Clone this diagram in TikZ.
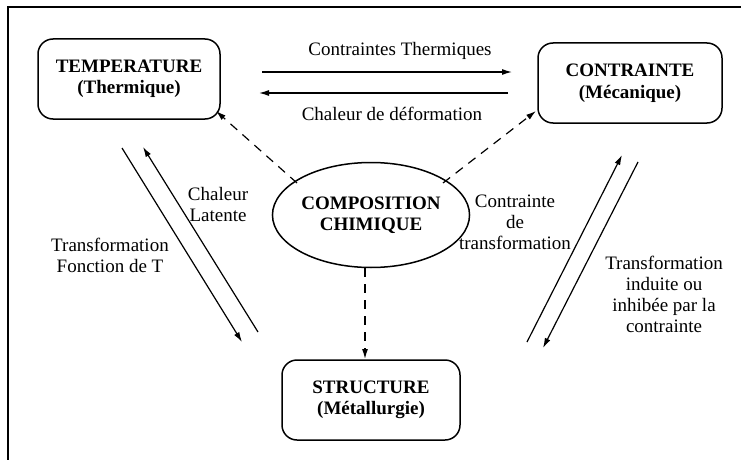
\documentclass[tikz,border=0pt]{standalone}
\usepackage{fontspec}
\setmainfont{Liberation Serif}
\usetikzlibrary{arrows.meta,shapes.geometric}
\begin{document}
\begin{tikzpicture}[x=1pt,y=-1pt,
  every node/.style={font=\fontsize{19}{21}\selectfont, inner sep=0pt, align=center},
  boxnode/.style={draw, line width=1.5pt, rounded corners=15pt, font=\fontsize{19}{21.5}\selectfont\bfseries},
  ellnode/.style={draw, ellipse, line width=1.5pt, font=\fontsize{19}{21}\selectfont\bfseries},
  conn/.style={line width=1.2pt, -{Latex[length=10pt,width=6pt]}},
  dconn/.style={conn, dash pattern=on 9pt off 7pt},
  lbl/.style={text=black}
]
\useasboundingbox (0,0) rectangle (741,460);
\fill[white] (0,0) rectangle (741,460);
% frame
\draw[line width=2pt] (8,460) -- (8,7) -- (741,7);

% nodes
\node[boxnode, minimum width=182pt, minimum height=80pt] (temp) at (129,79) {TEMPERATURE\\(Thermique)};
\node[boxnode, minimum width=184pt, minimum height=80pt] (cont) at (630,83) {CONTRAINTE\\(Mécanique)};
\node[boxnode, minimum width=178pt, minimum height=80pt] (struc) at (371,400) {STRUCTURE\\(Métallurgie)};
\node[ellnode, minimum width=177pt, minimum height=105pt] (comp) at (371,215) {COMPOSITION\\CHIMIQUE};

% coordinates for parallel arrows
\coordinate (t1s) at (262,72);  \coordinate (t1e) at (512,72);
\coordinate (t2s) at (508,93);  \coordinate (t2e) at (259,93);
\coordinate (l1s) at (122,148); \coordinate (l1e) at (242,342);
\coordinate (l2s) at (258,332); \coordinate (l2e) at (143,147);
\coordinate (r1s) at (527,342); \coordinate (r1e) at (622,155);
\coordinate (r2s) at (638,162); \coordinate (r2e) at (543,348);
% dashed arrow ends
\coordinate (d1s) at (297,183); \coordinate (d1e) at (216,111);
\coordinate (d2s) at (443,183); \coordinate (d2e) at (536,111);
\coordinate (d3s) at (365,268); \coordinate (d3e) at (365,359);

\draw[conn] (t1s) -- (t1e);
\draw[conn] (t2s) -- (t2e);
\draw[conn] (l1s) -- (l1e);
\draw[conn] (l2s) -- (l2e);
\draw[conn] (r1s) -- (r1e);
\draw[conn] (r2s) -- (r2e);
\draw[dconn] (d1s) -- (d1e);
\draw[dconn] (d2s) -- (d2e);
\draw[dconn] (d3s) -- (d3e);

% labels
\node[lbl] (lab1) at (400,51) {Contraintes Thermiques};
\node[lbl] (lab2) at (392,114) {Chaleur de déformation};
\node[lbl] (lab3) at (218,204) {Chaleur\\Latente};
\node[lbl] (lab4) at (110,255) {Transformation\\Fonction de T};
\node[lbl] (lab5) at (515,222) {Contrainte\\de\\transformation};
\node[lbl] (lab6) at (664,294) {Transformation\\induite ou\\inhibée par la\\contrainte};
\end{tikzpicture}
\end{document}
